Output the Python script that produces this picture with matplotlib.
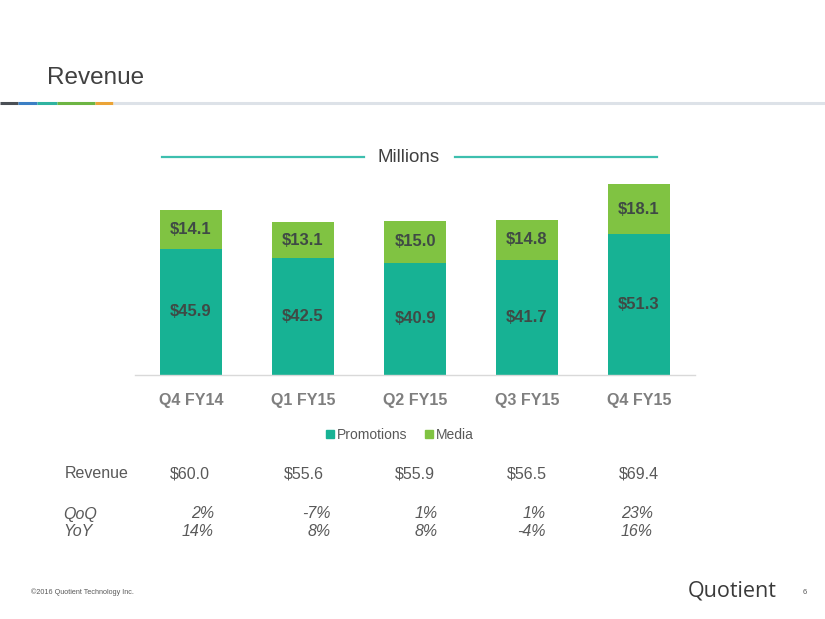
import matplotlib
matplotlib.use("Agg")
import matplotlib.pyplot as plt
from matplotlib.lines import Line2D

plt.rcParams['font.family'] = ['Liberation Sans', 'DejaVu Sans']

# ---- data ----
categories = ["Q4 FY14", "Q1 FY15", "Q2 FY15", "Q3 FY15", "Q4 FY15"]
promotions = [45.9, 42.5, 40.9, 41.7, 51.3]
media = [14.1, 13.1, 15.0, 14.8, 18.1]
revenue_labels = ["$60.0", "$55.6", "$55.9", "$56.5", "$69.4"]
qoq_labels = ["2%", "-7%", "1%", "1%", "23%"]
yoy_labels = ["14%", "8%", "8%", "-4%", "16%"]

W, H = 825, 619
fig = plt.figure(figsize=(W / 100, H / 100), dpi=100)
fig.patch.set_facecolor("white")

def fx(x):
    return x / W

def fy(y):
    return 1 - y / H

# ---- title ----
fig.text(fx(47), fy(78), "Revenue", fontsize=17.5, color="#404040", ha="left", va="center")

# title underline bar with coloured segments
segs = [(0, 18, "#4a4f55"), (18, 37, "#3b7fc4"), (37, 57, "#2fb3a0"),
        (57, 95, "#6db543"), (95, 113, "#eba437"), (113, 825, "#dde2e8")]
for x0, x1, c in segs:
    fig.add_artist(Line2D([fx(x0), fx(x1)], [fy(103), fy(103)], color=c, lw=2.2,
                          solid_capstyle="butt", transform=fig.transFigure))

# ---- Millions header ----
fig.text(fx(408.5), fy(157), "Millions", fontsize=13.5, color="#404040", ha="center", va="center")
for x0, x1 in [(162, 364), (455, 657)]:
    fig.add_artist(Line2D([fx(x0), fx(x1)], [fy(157), fy(157)], color="#3dbfae", lw=1.6,
                          transform=fig.transFigure))

# ---- chart ----
ax_left, ax_right, ax_bottom, ax_top = 135, 695, 375, 170
ax = fig.add_axes([fx(ax_left), fy(ax_bottom), (ax_right - ax_left) / W, (ax_bottom - ax_top) / H])
ymax = (ax_bottom - ax_top) / 2.75
ax.set_ylim(0, ymax)
ax.set_xlim(-0.5, len(categories) - 0.5)

x = list(range(len(categories)))
teal = "#17b294"
green = "#80c342"
b1 = ax.bar(x, promotions, width=0.555, color=teal, label="Promotions")
b2 = ax.bar(x, media, width=0.555, bottom=promotions, color=green, label="Media")
ax.bar_label(b1, fmt="${:.1f}", label_type="center", fontsize=12, fontweight="bold", color="#3f4a45")
ax.bar_label(b2, fmt="${:.1f}", label_type="center", fontsize=12, fontweight="bold", color="#3f4a45")

for s in ["top", "left", "right"]:
    ax.spines[s].set_visible(False)
ax.spines["bottom"].set_color("#d9d9d9")
ax.spines["bottom"].set_linewidth(1)
ax.set_yticks([])
ax.set_xticks(x)
ax.set_xticklabels(categories, fontsize=11.5, fontweight="bold", color="#7f7f7f")
ax.tick_params(axis="x", length=0, pad=13)
ax.patch.set_visible(False)

handles = [Line2D([], [], marker="s", linestyle="none", markersize=6, color=teal),
           Line2D([], [], marker="s", linestyle="none", markersize=6, color=green)]
fig.legend(handles, ["Promotions", "Media"], loc="center", bbox_to_anchor=(fx(399), fy(435)),
           ncol=2, frameon=False, fontsize=10, labelcolor="#595959",
           handlelength=0.8, handletextpad=0.1, columnspacing=1.2)

# ---- table below ----
tcol = "#595959"
fig.text(fx(65), fy(474), "Revenue", fontsize=11.5, color=tcol, ha="left", va="center")
fig.text(fx(63), fy(514), "QoQ", fontsize=11.5, color=tcol, ha="left", va="center", style="italic")
fig.text(fx(63), fy(532), "YoY", fontsize=11.5, color=tcol, ha="left", va="center", style="italic")
rev_left = [170, 284, 395, 507, 619]
pct_right = [214, 331, 438, 546, 653]
for i in range(len(categories)):
    fig.text(fx(rev_left[i]), fy(474), revenue_labels[i], fontsize=11.5, color=tcol, ha="left", va="center")
    fig.text(fx(pct_right[i]), fy(514), qoq_labels[i], fontsize=11.5, color=tcol, ha="right", va="center", style="italic")
    fig.text(fx(pct_right[i]), fy(532), yoy_labels[i], fontsize=11.5, color=tcol, ha="right", va="center", style="italic")

# ---- footer ----
fig.text(fx(31), fy(592), "©2016 Quotient Technology Inc.", fontsize=5.2, color="#595959", ha="left", va="center")
fig.text(fx(688), fy(591), "Quotient", fontsize=15.5, color="#3a3a3a", ha="left", va="center",
         family=["Open Sans", "DejaVu Sans"])
fig.text(fx(803), fy(592), "6", fontsize=5.5, color="#595959", ha="left", va="center")

fig.savefig("out.png", dpi=100, facecolor="white")
